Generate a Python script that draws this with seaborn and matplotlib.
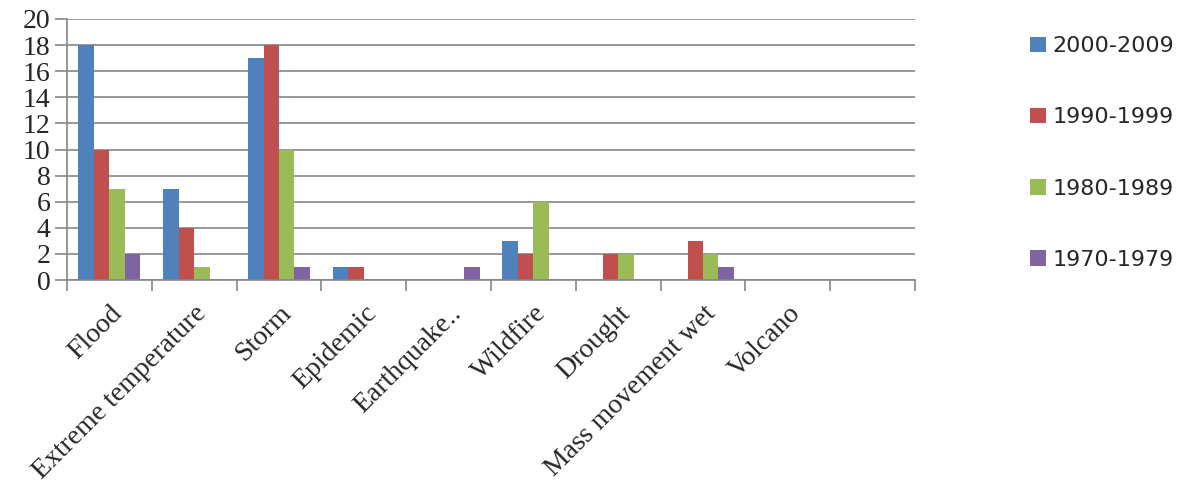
import matplotlib
matplotlib.use("Agg")
import matplotlib.pyplot as plt
import seaborn as sns
import pandas as pd
import numpy as np

categories = ["Flood", "Extreme temperature", "Storm", "Epidemic", "Earthquake..",
              "Wildfire", "Drought", "Mass movement wet", "Volcano"]
series_names = ["2000-2009", "1990-1999", "1980-1989", "1970-1979"]
v2000 = [18, 7, 17, 1, 0, 3, 0, 0, 0]
v1990 = [10, 4, 18, 1, 0, 2, 2, 3, 0]
v1980 = [7, 1, 10, 0, 0, 6, 2, 2, 0]
v1970 = [2, 0, 1, 0, 1, 0, 0, 1, 0]
colors = ["#4F81BD", "#C0504D", "#9BBB59", "#8064A2"]
yticks = [0, 2, 4, 6, 8, 10, 12, 14, 16, 18, 20]

rows = []
for name, vals in zip(series_names, [v2000, v1990, v1980, v1970]):
    for c, v in zip(categories, vals):
        rows.append({"category": c, "period": name, "value": v})
df = pd.DataFrame(rows)

sns.set_style("white")
fig = plt.figure(figsize=(11.78, 4.83), dpi=100)
ax = fig.add_axes([67/1178, 1-280/483, (915-67)/1178, (280-19)/483])

sns.barplot(data=df, x="category", y="value", hue="period", order=categories,
            hue_order=series_names, palette=colors, width=0.73, gap=0,
            saturation=1, ax=ax, legend=True, edgecolor="none", linewidth=0)

grid_c = "#868686"
ax.set_xlim(-0.5, 9.5)
ax.set_ylim(0, 20)
ax.set_yticks(yticks)
ax.set_yticklabels([str(t) for t in yticks], fontsize=20, family="Liberation Serif")
ax.yaxis.grid(True, color=grid_c, linewidth=1.2)
ax.set_axisbelow(True)
for s in ["top", "right"]:
    ax.spines[s].set_visible(False)
for s in ["left", "bottom"]:
    ax.spines[s].set_color(grid_c)
    ax.spines[s].set_linewidth(1.2)
ax.tick_params(axis="y", length=9, width=1.2, color=grid_c, pad=3, direction="out", left=True)
ax.set_xticks(range(len(categories)))
ax.set_xticklabels(categories, rotation=45, ha="right", rotation_mode="anchor",
                   fontsize=20, family="Liberation Serif")
ax.tick_params(axis="x", length=0, pad=15)
ax.set_xticks(np.arange(-0.5, 10.0, 1.0), minor=True)
ax.tick_params(axis="x", which="minor", length=8, width=1.2, color=grid_c, bottom=True)
ax.set_xlabel("")
ax.set_ylabel("")

handles, labels = ax.get_legend_handles_labels()
ax.legend_.remove()
fig.legend(handles, labels, loc="center left", bbox_to_anchor=(1019/1178, 1-153/483),
           frameon=False, fontsize=16, labelspacing=2.3, handlelength=0.7,
           handleheight=0.7, handletextpad=0.3, borderpad=0)

fig.savefig("out.png", dpi=100)
